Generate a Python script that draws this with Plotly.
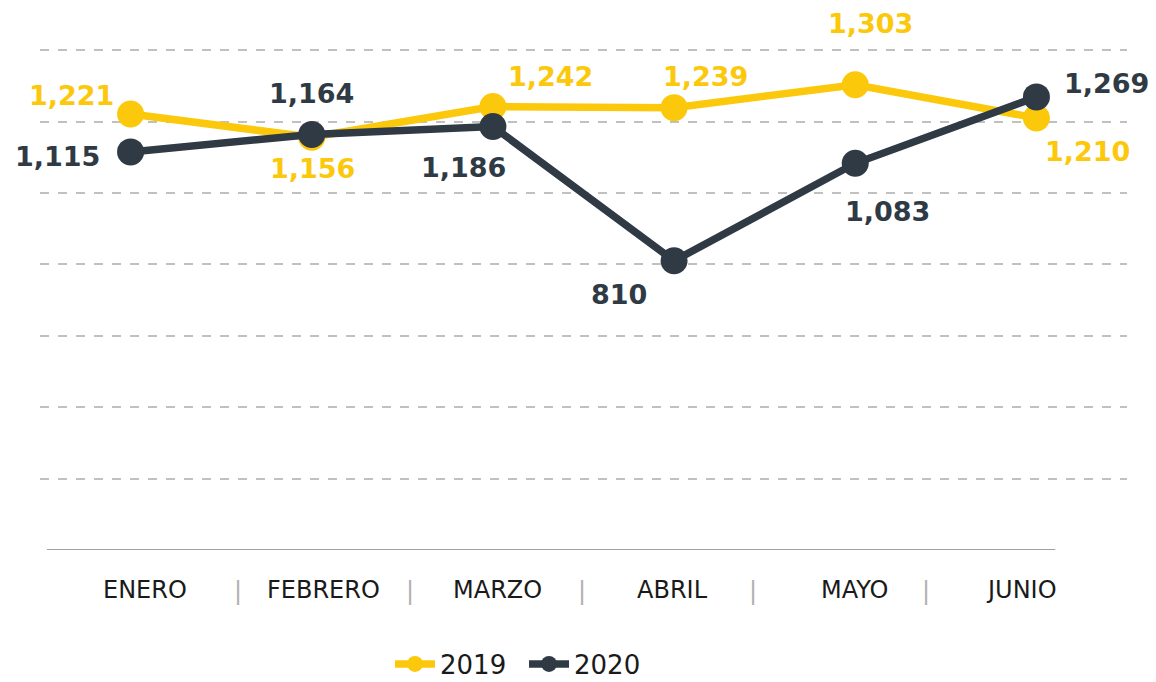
import plotly.graph_objects as go

# ---- data ----
months = ["ENERO", "FEBRERO", "MARZO", "ABRIL", "MAYO", "JUNIO"]
series_names = ["2019", "2020"]
values_2019 = [1221, 1156, 1242, 1239, 1303, 1210]
values_2020 = [1115, 1164, 1186, 810, 1083, 1269]
y_ticks = [200, 400, 600, 800, 1000, 1200, 1400]

# ---- styles ----
YELLOW = "#FCC80C"
DARK = "#2F3A45"
FONT = "DejaVu Sans"

# label offsets (pixels) for the value labels
shift_2019 = [(-59, 19), (1, -31), (58, 30), (31, 31), (15, 61), (51, -34)]
shift_2020 = [(-73, -5), (0, 41), (-29, -41), (-55, -34), (32, -48), (70, 13)]
# offsets for category labels and separators
month_shift = [14, 12, 5, -2, 0, -15]
sep_shift = [17, 8, -2, -12, -20]

fig = go.Figure()
for name, vals, col in [(series_names[0], values_2019, YELLOW),
                        (series_names[1], values_2020, DARK)]:
    fig.add_trace(go.Scatter(
        x=months, y=vals, name=name, mode="lines+markers",
        line=dict(color=col, width=7.5),
        marker=dict(color=col, size=27),
        cliponaxis=False,
    ))

ann = []
for vals, shifts, col in [(values_2019, shift_2019, YELLOW),
                          (values_2020, shift_2020, DARK)]:
    for m, v, (dx, dy) in zip(months, vals, shifts):
        ann.append(dict(x=m, y=v, xref="x", yref="y", text=f"{v:,}",
                        showarrow=False, xshift=dx, yshift=dy,
                        font=dict(family=FONT, size=27, color=col, weight="bold")))

for i, m in enumerate(months):
    ann.append(dict(x=i, y=0, xref="x", yref="paper", text=m, showarrow=False,
                    xshift=month_shift[i], yshift=-40, yanchor="middle",
                    font=dict(family=FONT, size=24, color="#1a1a1a")))
for i in range(len(months) - 1):
    ann.append(dict(x=i + 0.5, y=0, xref="x", yref="paper", text="|", showarrow=False,
                    xshift=sep_shift[i], yshift=-41, yanchor="middle",
                    font=dict(family=FONT, size=24, color="#b0b0b0")))

fig.update_layout(
    width=1156, height=682,
    margin=dict(l=32, r=37, t=40, b=140, autoexpand=False),
    paper_bgcolor="white", plot_bgcolor="white",
    showlegend=True,
    legend=dict(orientation="h", x=0.322, xanchor="left",
                yref="container", y=0.0381, yanchor="middle",
                font=dict(family=FONT, size=26, color="#1a1a1a"),
                entrywidth=79, entrywidthmode="pixels",
                itemwidth=40, tracegroupgap=0),
    annotations=ann,
    shapes=[dict(type="line", xref="paper", yref="y", x0=0.0064, x1=0.934, y0=0, y1=0,
                 line=dict(color="#a0a0a0", width=2))],
    xaxis=dict(type="category", range=[-0.5, 5.5], showgrid=False, showline=False,
               zeroline=False, showticklabels=False, ticks=""),
    yaxis=dict(range=[0, 1406], tickvals=y_ticks, showgrid=True, griddash="dash",
               gridcolor="#c0c0c0", gridwidth=2, showticklabels=False,
               zeroline=False, showline=False, ticks=""),
)

fig.write_html("out.html")
